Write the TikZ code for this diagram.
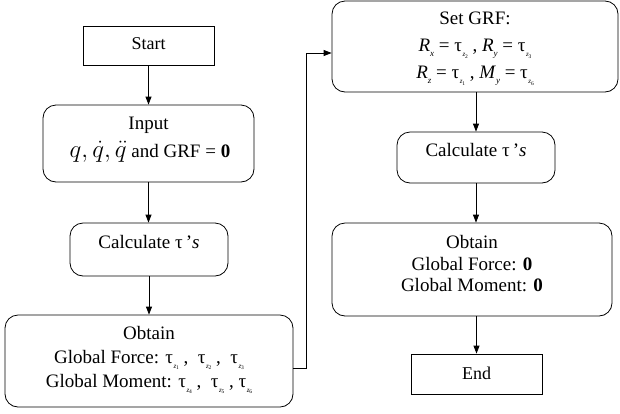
\documentclass[tikz,border=0pt]{standalone}
\usepackage{fontspec}
\setmainfont{Liberation Serif}
\usetikzlibrary{arrows.meta}
\newcommand{\tz}[1]{τ\kern0.6pt\raisebox{-0.55ex}{\fontsize{7}{7}\selectfont\textit{z}\kern-0.2pt\raisebox{-0.4ex}{\fontsize{5.5}{5.5}\selectfont #1}}}
\newcommand{\Rs}[2]{\textit{#1}\raisebox{-0.55ex}{\fontsize{9}{9}\selectfont\textit{#2}}}
\newcommand{\tauss}{τ\,\symbol{"27}\textit{s}}
\begin{document}
\begin{tikzpicture}[x=1pt,y=-1pt,
  sq/.style={draw, line width=0.8pt, inner sep=0pt},
  rnd/.style={sq, rounded corners=13pt},
  txt/.style={font=\fontsize{19}{22}\selectfont, align=center, inner sep=0pt},
  arr/.style={-{Triangle[length=8pt,width=6pt]}, line width=0.8pt}]
\useasboundingbox (0,0) rectangle (620,413);
% left column
\node[sq, minimum width=131pt, minimum height=39pt] (start) at (148.5,45.5) {};
\node[txt, font=\fontsize{18}{22}\selectfont] (tstart) at (148.5,44) {Start};
\node[rnd, minimum width=211pt, minimum height=77pt] (input) at (148.5,143.5) {};
\node[txt] (tinput1) at (148.5,125) {Input};
\node[txt] (tinput2) at (150,152) {{\fontsize{28}{28}\selectfont$q,\dot{q},\ddot{q}$}\ and GRF = \textbf{0}};
\node[rnd, minimum width=158pt, minimum height=53pt] (lcalc) at (149,249.5) {};
\node[txt] (tlcalc) at (149,242) {Calculate \tauss};
\node[rnd, minimum width=288pt, minimum height=92pt] (lobt) at (149,361) {};
\node[txt, font=\fontsize{19}{24}\selectfont] (tlobt) at (149,360) {Obtain\\Global Force: \tz{1} ,\ \ \tz{2} ,\ \ \tz{3}\\Global Moment: \tz{4} ,\ \ \tz{5} , \tz{6}};
% right column
\node[rnd, minimum width=286pt, minimum height=91pt] (setgrf) at (475,46.5) {};
\node[txt, font=\fontsize{19}{27}\selectfont] (tsetgrf) at (475,49) {Set GRF:\\\Rs{R}{x} = \tz{2} , \Rs{R}{y} = \tz{3}\\\Rs{R}{z} = \tz{1} ,\ \Rs{M}{y} = \tz{6}};
\node[rnd, minimum width=158pt, minimum height=51pt] (rcalc) at (476,157.5) {};
\node[txt] (trcalc) at (476,150) {Calculate \tauss};
\node[rnd, minimum width=280pt, minimum height=93pt] (robt) at (472,269.5) {};
\node[txt, font=\fontsize{19}{21.5}\selectfont] (trobt) at (472,264) {Obtain\\Global Force: \textbf{0}\\Global Moment: \textbf{0}};
\node[sq, minimum width=131pt, minimum height=40pt] (end) at (476.5,374) {};
\node[txt, font=\fontsize{18}{22}\selectfont] (tend) at (476.5,373) {End};
% connectors
\draw[arr] (start.south) -- (start.south |- input.north);
\draw[arr] (input.south) -- (input.south |- lcalc.north);
\draw[arr] (lcalc.south) -- (lcalc.south |- lobt.north);
\draw[arr] ([yshift=-7pt]lobt.east) -- ++(13,0) |- ([yshift=-6.5pt]setgrf.west);
\draw[arr] (rcalc.north |- setgrf.south) -- (rcalc.north);
\draw[arr] (rcalc.south) -- (rcalc.south |- robt.north);
\draw[arr] (end.north |- robt.south) -- (end.north);
\end{tikzpicture}
\end{document}
